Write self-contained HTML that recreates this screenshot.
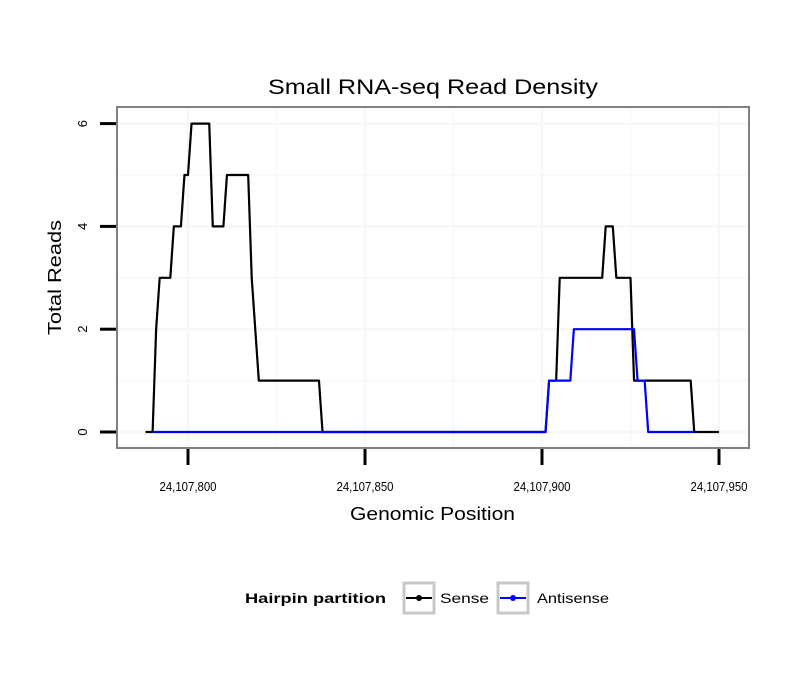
<!DOCTYPE html>
<html><head><meta charset="utf-8"><style>
body{margin:0;background:#fff;font-family:"Liberation Sans",sans-serif}
</style></head><body>
<svg width="810" height="690" xmlns="http://www.w3.org/2000/svg" font-family="Liberation Sans, sans-serif">
<rect width="810" height="690" fill="#fff"/>
<text x="268" y="94" font-size="21" textLength="330" lengthAdjust="spacingAndGlyphs">Small RNA-seq Read Density</text>
<g id="grid"></g>
<g id="ticks"></g>
<g id="series"></g>
<rect x="117" y="107" width="632" height="341" fill="none" stroke="#808080" stroke-width="2"/>
<text x="350" y="520" font-size="18" textLength="165" lengthAdjust="spacingAndGlyphs">Genomic Position</text>
<text transform="translate(61,335) rotate(-90)" font-size="18" textLength="115" lengthAdjust="spacingAndGlyphs">Total Reads</text>
<g>
<text x="245" y="603" font-size="14" font-weight="bold" textLength="141" lengthAdjust="spacingAndGlyphs">Hairpin partition</text>
<g>
<rect x="404" y="583" width="30" height="30" fill="#fff" stroke="#c8c8c8" stroke-width="3"/>
<line x1="406" y1="598" x2="432" y2="598" stroke="#000" stroke-width="2"/><circle cx="419" cy="598" r="3" fill="#000"/>
<text x="440" y="603" font-size="14" textLength="49" lengthAdjust="spacingAndGlyphs">Sense</text></g>
<g>
<rect x="498" y="583" width="30" height="30" fill="#fff" stroke="#c8c8c8" stroke-width="3"/>
<line x1="500" y1="598" x2="526" y2="598" stroke="#00f" stroke-width="2"/><circle cx="513" cy="598" r="3" fill="#00f"/>
<text x="537" y="603" font-size="14" textLength="72" lengthAdjust="spacingAndGlyphs">Antisense</text></g>
</g>
</svg>
<script>
const base = 24107800;
const senseX = [-12,-10,-9,-8,-5,-4,-2,-1,0,1,6,7,10,11,17,18,20,37,38,101,102,104,105,117,118,120,121,125,126,142,143,150];
const senseY = [0,0,2,3,3,4,4,5,5,6,6,4,4,5,5,3,1,1,0,0,1,1,3,3,4,4,3,3,1,1,0,0];
const antiX = [-10,101,102,108,109,126,127,129,130,143];
const antiY = [0,0,1,1,2,2,1,1,0,0];
const xTicks = [0,50,100,150];
const xTickLabels = ["24,107,800","24,107,850","24,107,900","24,107,950"];
const yTicks = [0,2,4,6];
const NS="http://www.w3.org/2000/svg";
const sx = v => 188 + (v)*3.54;
const sy = v => 432 - v*51.4;
function mk(tag, attrs, parent){const e=document.createElementNS(NS,tag);for(const k in attrs)e.setAttribute(k,attrs[k]);parent.appendChild(e);return e;}
const grid=document.getElementById('grid'), ticks=document.getElementById('ticks'), series=document.getElementById('series');
[-25,0,25,50,75,100,125,150].forEach(v=>{const x=sx(v);if(x>117&&x<749){const l=mk('line',{x1:x,x2:x,y1:108,y2:447,stroke:'#f7f7f7','stroke-width':xTicks.includes(v)?2.5:1.5},grid);}});
[0,1,2,3,4,5,6].forEach(v=>{const l=mk('line',{x1:118,x2:748,y1:sy(v),y2:sy(v),stroke:'#f7f7f7','stroke-width':v%2?1.5:2.5},grid);});
xTicks.forEach((v,i)=>{const x=sx(v);
const l=mk('line',{x1:x,x2:x,y1:449,y2:465,stroke:'#000','stroke-width':3},ticks);
const t=mk('text',{x:x,y:491,'text-anchor':'middle','font-size':12.5,textLength:57,lengthAdjust:'spacingAndGlyphs'},ticks);t.textContent=xTickLabels[i];});
yTicks.forEach(v=>{const y=sy(v);
const l=mk('line',{x1:100,x2:116,y1:y,y2:y,stroke:'#000','stroke-width':3},ticks);
const t=mk('text',{transform:`translate(87,${y}) rotate(-90)`,'text-anchor':'middle','font-size':13},ticks);t.textContent=v;});
function line(xs,ys,color,name){const p=mk('polyline',{points:xs.map((x,i)=>sx(x)+','+sy(ys[i])).join(' '),fill:'none',stroke:color,'stroke-width':2.2,'stroke-linejoin':'round'},series);}
line(senseX,senseY,'#000','sense-line');
line(antiX,antiY,'#00f','antisense-line');
</script>
</body></html>
